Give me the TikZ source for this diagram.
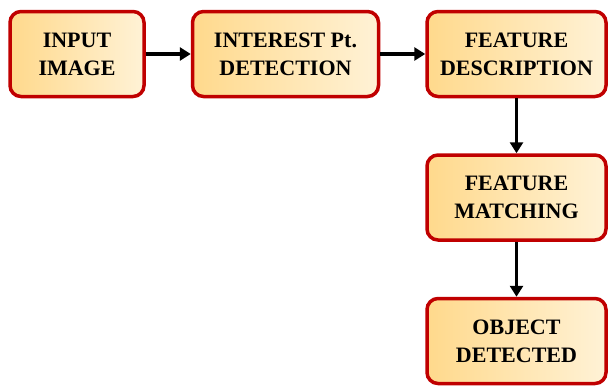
\documentclass[tikz,border=0pt]{standalone}
\usepackage{fontspec}
\setmainfont{Liberation Serif}
\usetikzlibrary{positioning,arrows.meta}

\definecolor{boxred}{HTML}{C00000}
\definecolor{boxdark}{HTML}{FFD98C}
\definecolor{boxlight}{HTML}{FFF2D6}

\tikzset{
  stage/.style={draw=boxred, line width=3.5pt, rounded corners=11pt,
    left color=boxdark, right color=boxlight,
    minimum height=85pt, inner sep=0pt, align=center,
    font=\fontsize{22}{28}\selectfont\bfseries},
  flow/.style={line width=3.5pt, -{Triangle[length=11pt,width=13pt]}}
}

\begin{document}
\begin{tikzpicture}[x=1pt,y=1pt,node distance=55pt and 45pt]
          \useasboundingbox (0,0) rectangle (612,-388);

          \node[stage, minimum width=134pt] at (77,-54) (input) {INPUT\\IMAGE};
          \node[stage, minimum width=186pt, right=of input] (interest) {INTEREST Pt.\\DETECTION};
          \node[stage, minimum width=179pt, right=of interest] (descr) {FEATURE\\DESCRIPTION};
          \node[stage, minimum width=179pt, below=of descr] (match) {FEATURE\\MATCHING};
          \node[stage, minimum width=179pt, below=of match] (object) {OBJECT\\DETECTED};

          \draw[flow] (input)    to (interest);
          \draw[flow] (interest) to (descr);
          \draw[flow] (descr)    to (match);
          \draw[flow] (match)    to (object);
        \end{tikzpicture}
\end{document}
